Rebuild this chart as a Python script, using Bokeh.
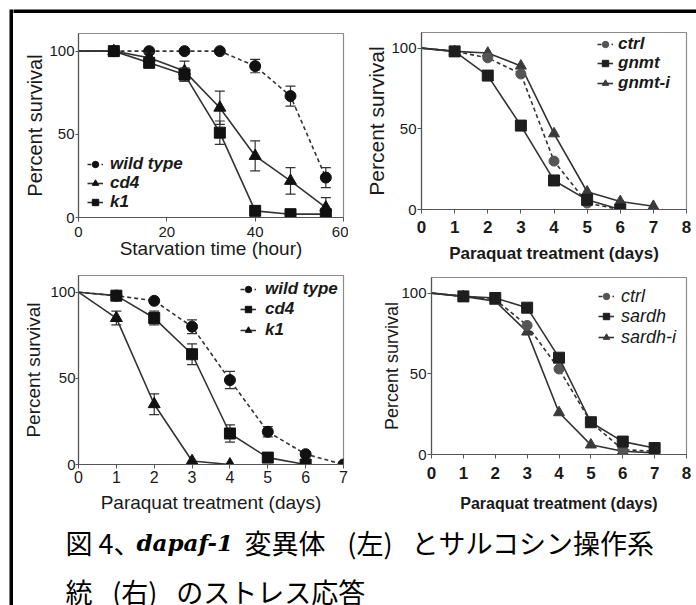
from bokeh.plotting import figure
from bokeh.models import Range1d, FixedTicker, Legend, LegendItem
from bokeh.layouts import row, column
from bokeh.embed import file_html
from bokeh.resources import INLINE
from bokeh.core.properties import value

# ---------------- data ----------------
# Panel A: starvation (first point, t=0, is the start of each curve; drawn without marker)
starv_hours = [0, 8, 16, 24, 32, 40, 48, 56]
starv_wt = [100, 100, 100, 100, 100, 91, 73, 24]
starv_wt_err = [0, 0, 0, 0, 0, 4, 6, 6]
starv_cd4 = [100, 100, 96, 88, 66, 37, 22, 6]
starv_cd4_err = [0, 0, 3, 6, 10, 9, 8, 6]
starv_k1 = [100, 100, 93, 86, 51, 4, 2, 2]
starv_k1_err = [0, 0, 3, 4, 7, 0, 0, 0]
starv_labels = ["wild type", "cd4", "k1"]

# Panel B: gnmt, paraquat
gn_days = [0, 1, 2, 3, 4, 5, 6, 7]
gn_ctrl = [100, 98, 94, 84, 30, 4, 0]
gn_gnmt = [100, 98, 83, 52, 18, 6, 0]
gn_gnmt_i = [100, 98, 97, 89, 47, 11, 5, 2]
gn_labels = ["ctrl", "gnmt", "gnmt-i"]

# Panel C: dapaf-1, paraquat
pq_days = [0, 1, 2, 3, 4, 5, 6, 7]
pq_wt = [100, 98, 95, 80, 49, 19, 6, 0]
pq_wt_err = [0, 0, 0, 4, 5, 3, 0, 0]
pq_cd4 = [100, 98, 85, 64, 18, 4, 0]
pq_cd4_err = [0, 2, 4, 6, 5, 0, 0]
pq_k1 = [100, 85, 35, 2, 0]
pq_k1_err = [0, 4, 6, 0, 0]
pq_labels = ["wild type", "cd4", "k1"]

# Panel D: sardh, paraquat
sa_days = [0, 1, 2, 3, 4, 5, 6, 7]
sa_ctrl = [100, 98, 96, 80, 53, 20, 3, 2]
sa_sardh = [100, 98, 97, 91, 60, 20, 8, 4]
sa_sardh_i = [100, 98, 95, 76, 26, 6, 2, 1]
sa_labels = ["ctrl", "sardh", "sardh-i"]

y_ticks = [0, 50, 100]
starv_ticks = [0, 20, 40, 60]
day_ticks_7 = [0, 1, 2, 3, 4, 5, 6, 7]
day_ticks_8 = [0, 1, 2, 3, 4, 5, 6, 7, 8]

caption_line1 = ["図 4、", "dapaf-1", "変異体", "(左)", "とサルコシン操作系"]
caption_line2 = ["統", "(右)", "のストレス応答"]

# ---------------- style ----------------
SANS = "Liberation Sans"
INK = "#1a1a1a"
LINE = "#333333"
AX = "#555555"


def base_fig(**kw):
    p = figure(output_backend="svg", toolbar_location=None, title=None, **kw)
    p.frame_align = False
    return p


def panel(w, h, bl, br, bt, bb, xmax, ymax, xticks, xlabel, bold_x=False,
          ytick_size="15px", xtick_size="15px", ylab_size="20px", xlab_size="19px",
          ytick_out=3, ystand=1, ylab_stand=3, xtick_out=4, xstand=3, xlab_stand=0):
    p = base_fig(width=w, height=h, x_range=Range1d(0, xmax), y_range=Range1d(0, ymax),
                 min_border_left=bl, min_border_right=br, min_border_top=bt, min_border_bottom=bb)
    p.grid.visible = False
    p.outline_line_color = "#8c8c8c"
    p.outline_line_width = 1.2
    p.background_fill_color = "white"
    p.border_fill_color = "white"
    p.xaxis.ticker = FixedTicker(ticks=xticks)
    p.yaxis.ticker = FixedTicker(ticks=y_ticks)
    for ax in (p.xaxis[0], p.yaxis[0]):
        ax.axis_line_color = AX
        ax.axis_line_width = 1.2
        ax.major_tick_line_color = AX
        ax.major_tick_in = 0
        ax.minor_tick_line_color = None
        ax.major_label_text_font = SANS
        ax.axis_label_text_font = SANS
        ax.major_label_text_color = INK
        ax.axis_label_text_color = INK
        ax.axis_label_text_font_style = "normal"
    ya, xa = p.yaxis[0], p.xaxis[0]
    ya.axis_label = "Percent survival"
    ya.axis_label_text_font_size = ylab_size
    ya.major_label_text_font_size = ytick_size
    ya.major_tick_out = ytick_out
    ya.major_label_standoff = ystand
    ya.axis_label_standoff = ylab_stand
    xa.axis_label = xlabel
    xa.axis_label_text_font_size = xlab_size
    xa.major_label_text_font_size = xtick_size
    xa.major_tick_out = xtick_out
    xa.major_label_standoff = xstand
    xa.axis_label_standoff = xlab_stand
    if bold_x:
        xa.axis_label_text_font_style = "bold"
        xa.major_label_text_font_style = "bold"
    return p


def series(p, x, y, marker, size, color, dash="solid", err=None):
    xs = x[:len(y)]
    lr = p.line(xs, y, line_color=LINE, line_width=1.6, line_dash=dash)
    if err is not None:
        xe = [xi for xi, e in zip(xs, err) if e > 0]
        lo = [yi - e for yi, e in zip(y, err) if e > 0]
        hi = [yi + e for yi, e in zip(y, err) if e > 0]
        p.segment(xe, lo, xe, hi, line_color=LINE, line_width=1.2)
        p.scatter(xe + xe, lo + hi, marker="dash", size=10, line_color=LINE, line_width=1.2)
    sr = p.scatter(xs[1:], y[1:], marker=marker, size=size, fill_color=color, line_color=color)
    return [lr, sr]


def legend_item(p, label, renderers, x, yc, standoff, font_size, style):
    H = 26
    leg = Legend(items=[LegendItem(label=label, renderers=renderers)],
                 location=(x, yc - H / 2), padding=0, margin=0, spacing=0,
                 glyph_width=16, glyph_height=H, label_height=H, label_standoff=standoff,
                 background_fill_alpha=0, border_line_color=None,
                 label_text_font=SANS, label_text_font_style=style,
                 label_text_font_size=font_size, label_text_color=INK)
    p.add_layout(leg)


# Panel A  (origin 13,13 ; frame 78..343 x 33..217)
pA = panel(335, 252, 65, 5, 20, 48, 60, 110.6, starv_ticks, "Starvation time (hour)",
           ylab_stand=0, xstand=5, xlab_stand=-2)
rA = [series(pA, starv_hours, starv_wt, "circle", 11, "#111111", "4 3", starv_wt_err),
      series(pA, starv_hours, starv_cd4, "triangle", 12, "#111111", "solid", starv_cd4_err),
      series(pA, starv_hours, starv_k1, "square", 11, "#111111", "solid", starv_k1_err)]
for lab, rr, yc in zip(starv_labels, rA, [53, 34, 15]):
    legend_item(pA, lab, rr, 9, yc, 7, "17px", "bold italic")

# Panel B  (origin 348,13 ; frame 421..686 x 32..213)
pB = panel(348, 252, 73, 10, 19, 52, 8, 109.7, day_ticks_8, "Paraquat treatment (days)",
           bold_x=True, xtick_size="17px", xlab_size="17px", ylab_size="21px",
           ytick_out=4, ystand=1, ylab_stand=0, xtick_out=4, xstand=7, xlab_stand=8)
rB_i = series(pB, gn_days, gn_gnmt_i, "triangle", 11, "#3a3a3a")
rB_c = series(pB, gn_days, gn_ctrl, "circle", 10, "#555555", "4 3")
rB_g = series(pB, gn_days, gn_gnmt, "square", 11, "#1e1e1e")
for lab, rr, yc in zip(gn_labels, [rB_c, rB_g, rB_i], [165, 146, 126]):
    legend_item(pB, lab, rr, 176, yc, 5, "17px", "bold italic")

# Panel C  (origin 13,265 ; frame 78..343 x 275..464)
pC = panel(335, 255, 65, 5, 10, 56, 7, 109.7, day_ticks_7, "Paraquat treatment (days)",
           xtick_size="16px", ylab_size="19px", ytick_out=3, ystand=0, ylab_stand=3,
           xtick_out=4, xstand=2, xlab_stand=6)
rC = [series(pC, pq_days, pq_wt, "circle", 11, "#111111", "4 3", pq_wt_err),
      series(pC, pq_days, pq_cd4, "square", 11, "#111111", "solid", pq_cd4_err),
      series(pC, pq_days, pq_k1, "triangle", 12, "#111111", "solid", pq_k1_err)]
for lab, rr, yc in zip(pq_labels, rC, [175, 155, 134]):
    legend_item(pC, lab, rr, 162, yc, 9, "17px", "bold italic")

# Panel D  (origin 348,265 ; frame 431..686 x 277..454)
pD = panel(348, 255, 83, 10, 12, 66, 8, 109.7, day_ticks_8, "Paraquat treatment (days)",
           bold_x=True, xtick_size="17px", xlab_size="16px", ylab_size="18px",
           ytick_out=4, ystand=1, ylab_stand=-4, xtick_out=4, xstand=8, xlab_stand=13)
rD_i = series(pD, sa_days, sa_sardh_i, "triangle", 11, "#3a3a3a")
rD_c = series(pD, sa_days, sa_ctrl, "circle", 10, "#555555", "4 3")
rD_s = series(pD, sa_days, sa_sardh, "square", 11, "#1e1e1e")
for lab, rr, yc in zip(sa_labels, [rD_c, rD_s, rD_i], [158, 138, 117]):
    legend_item(pD, lab, rr, 167, yc, 7, "18px", "italic")

# Caption (origin 13,520 ; size 683x85, coordinates in pixels from its top-left)
cap = base_fig(width=683, height=85, x_range=Range1d(0, 683), y_range=Range1d(85, 0),
               min_border=0, x_axis_location=None, y_axis_location=None)
cap.grid.visible = False
cap.outline_line_color = None
cap.border_fill_color = "white"
JP = value("Noto Sans CJK JP")
JPS = "27px"
Y1, Y2 = 21.5, 71
cap.text(x=[52], y=[Y1], text=[caption_line1[0]], text_font=JP, text_font_size=JPS,
         text_baseline="middle", text_color="black")
cap.text(x=[123], y=[Y1], text=[caption_line1[1]], text_font=value("DejaVu Serif"),
         text_font_style="bold italic", text_font_size="23px", text_baseline="middle", text_color="black")
cap.text(x=[231], y=[Y1], text=[caption_line1[2]], text_font=JP, text_font_size=JPS,
         text_baseline="middle", text_color="black")
cap.text(x=[356.5], y=[Y1], text=[caption_line1[3]], text_font=JP, text_font_size=JPS,
         text_baseline="middle", text_align="center", text_color="black")
cap.text(x=[398], y=[Y1], text=[caption_line1[4]], text_font=JP, text_font_size=JPS,
         text_baseline="middle", text_color="black")
cap.text(x=[52], y=[Y2], text=[caption_line2[0]], text_font=JP, text_font_size=JPS,
         text_baseline="middle", text_color="black")
cap.text(x=[121.3], y=[Y2], text=[caption_line2[1]], text_font=JP, text_font_size=JPS,
         text_baseline="middle", text_align="center", text_color="black")
cap.text(x=[162.8], y=[Y2], text=[caption_line2[2]], text_font=JP, text_font_size=JPS,
         text_baseline="middle", text_color="black")


def bar(w, h, left, top):
    b = base_fig(width=w, height=h, min_border_left=left, min_border_top=top,
                 min_border_right=0, min_border_bottom=0,
                 x_axis_location=None, y_axis_location=None)
    b.grid.visible = False
    b.outline_line_color = None
    b.background_fill_color = "black"
    b.border_fill_color = "white"
    return b


leftbar = bar(13, 605, 9, 9)   # black strip at x 9..13, from y 9 down
topbar = bar(683, 13, 0, 9)    # black strip at y 9..13

layout = row(leftbar, column(topbar, row(pA, pB), row(pC, pD), cap))

open("out.html", "w").write(file_html(layout, INLINE))
